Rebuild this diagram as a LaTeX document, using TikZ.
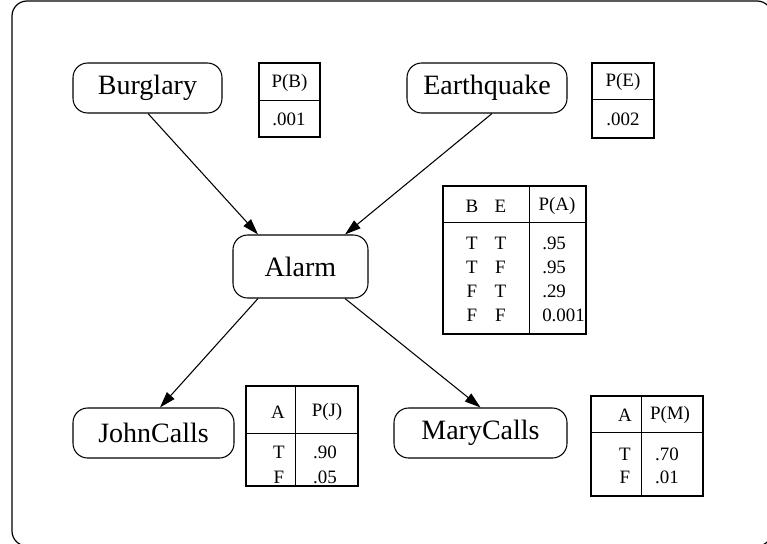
\documentclass[tikz,border=0pt]{standalone}
\usepackage{fontspec}
\setmainfont{Liberation Serif}
\usetikzlibrary{calc,arrows.meta}
\begin{document}
\begin{tikzpicture}[x=0.75pt,y=-0.75pt,
  var/.style={draw, line width=0.8pt, rounded corners=11pt, inner sep=0pt,
              font=\fontsize{21}{24}\selectfont},
  cpt/.style={draw, line width=0.8pt, inner sep=0pt},
  cell/.style={inner sep=0pt, font=\fontsize{14.2}{16}\selectfont},
  lcell/.style={cell, anchor=west},
  link/.style={line width=0.8pt, -{Triangle[length=12pt,width=7.5pt]}},
  rule/.style={line width=0.8pt}]
\useasboundingbox (0,0) rectangle (767,543);

% outer frame
\begin{scope}
  \clip (0,0) rectangle (767,543);
  \draw[line width=0.9pt, rounded corners=11.25pt] (12,1) rectangle (772,546);
\end{scope}

% network variables
\node[var, minimum width=111.75pt, minimum height=37.5pt] (burglary)   at (147.5,88)  {Burglary};
\node[var, minimum width=120pt,    minimum height=37.5pt] (earthquake) at (487,88)    {Earthquake};
\node[var, minimum width=101.25pt, minimum height=47.25pt] (alarm)     at (300.5,266.5) {Alarm};
\node[var, minimum width=120.75pt, minimum height=37.5pt] (john)       at (153.5,433) {JohnCalls};
\node[var, minimum width=129.75pt, minimum height=37.5pt] (mary)       at (480.5,433) {MaryCalls};

% edges
\draw[link] ($(burglary.south)+(0.5,0)$) -- ($(alarm.north)+(-42.5,0)$);
\draw[link] ($(earthquake.south)+(5,0)$) -- ($(alarm.north)+(44.5,0)$);
\draw[link] ($(alarm.south)+(-42.5,0)$) -- ($(john.north)+(6.5,0)$);
\draw[link] ($(alarm.south)+(44.5,0)$) -- (mary.north);

% P(B)
\node[cpt, minimum width=45.75pt, minimum height=55.5pt] (tb) at (289.5,100) {};
\draw[rule] ($(tb.north west)+(0,38)$) -- ($(tb.north east)+(0,38)$);
\node[cell] (tbh) at (289.5,83) {P(B)};
\node[cell] (tbv) at (289,119) {.001};

% P(E)
\node[cpt, minimum width=46.5pt, minimum height=56.25pt] (te) at (623,100.5) {};
\draw[rule] ($(te.north west)+(0,37)$) -- ($(te.north east)+(0,37)$);
\node[cell] (teh) at (623,82) {P(E)};
\node[cell] (tev) at (623,119) {.002};

% P(A)
\node[cpt, minimum width=107.25pt, minimum height=111pt] (ta) at (514.5,260) {};
\draw[rule] ($(ta.north west)+(0,37)$) -- ($(ta.north east)+(0,37)$);
\draw[rule] ($(ta.north west)+(87,0)$) -- ($(ta.south west)+(87,0)$);
\node[cell] (tahb) at (472,206) {B};
\node[cell] (tahe) at (500.5,206) {E};
\node[cell] (tahp) at (557,206) {P(A)};
\node[cell] (ta1b) at (472,243) {T};
\node[cell] (ta1e) at (500.5,243) {T};
\node[lcell] (ta1p) at (542,243) {.95};
\node[cell] (ta2b) at (472,267) {T};
\node[cell] (ta2e) at (500.5,267) {F};
\node[lcell] (ta2p) at (542,267) {.95};
\node[cell] (ta3b) at (472,291) {F};
\node[cell] (ta3e) at (500.5,291) {T};
\node[lcell] (ta3p) at (542,291) {.29};
\node[cell] (ta4b) at (472,315) {F};
\node[cell] (ta4e) at (500.5,315) {F};
\node[lcell] (ta4p) at (542,315) {0.001};

% P(J)
\node[cpt, minimum width=84pt, minimum height=75pt] (tj) at (302,436) {};
\draw[rule] ($(tj.north west)+(0,48)$) -- ($(tj.north east)+(0,48)$);
\draw[rule] ($(tj.north west)+(50,0)$) -- ($(tj.south west)+(50,0)$);
\node[cell] (tjha) at (278,412) {A};
\node[cell] (tjhp) at (327,412) {P(J)};
\node[cell] (tj1a) at (279,452) {T};
\node[cell] (tj1p) at (325,452) {.90};
\node[cell] (tj2a) at (279,477) {F};
\node[cell] (tj2p) at (325,477) {.05};

% P(M)
\node[cpt, minimum width=84pt, minimum height=75pt] (tm) at (647,446) {};
\draw[rule] ($(tm.north west)+(0,37)$) -- ($(tm.north east)+(0,37)$);
\draw[rule] ($(tm.north west)+(51,0)$) -- ($(tm.south west)+(51,0)$);
\node[cell] (tmha) at (625,415) {A};
\node[cell] (tmhp) at (670,415) {P(M)};
\node[cell] (tm1a) at (625,454) {T};
\node[cell] (tm1p) at (667,454) {.70};
\node[cell] (tm2a) at (625,477) {F};
\node[cell] (tm2p) at (667,477) {.01};
\end{tikzpicture}
\end{document}
